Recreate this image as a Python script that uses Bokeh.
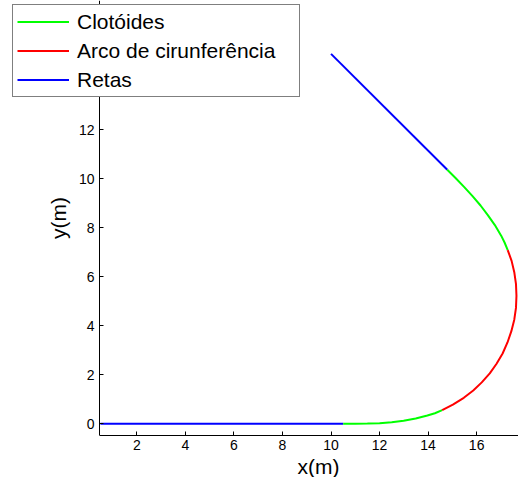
from bokeh.plotting import figure
from bokeh.models import Legend, LegendItem, Range1d, FixedTicker, Title
from bokeh.embed import file_html
from bokeh.resources import INLINE

# Retas (straight segments)
reta1_x = [0.5, 10.5]
reta1_y = [0.0, 0.0]
reta2_x = [14.79, 10.0]
reta2_y = [10.37, 15.1]

# Clotóides (transition curves)
clot1_x = [10.5, 11.0, 11.5, 12.0, 12.5, 12.99, 13.49, 13.97, 14.28, 14.58]
clot1_y = [0.0, 0.001, 0.008, 0.027, 0.063, 0.123, 0.213, 0.337, 0.43, 0.558]
clot2_x = [17.28, 17.15, 17.01, 16.75, 16.46, 16.16, 15.83, 15.49, 15.14, 14.79]
clot2_y = [7.09, 7.40, 7.68, 8.11, 8.52, 8.91, 9.29, 9.66, 10.02, 10.37]

# Arco de cirunferência
arco_x = [14.58, 15.02, 15.47, 15.86, 16.21, 16.54, 16.82, 17.07, 17.27, 17.43,
          17.55, 17.62, 17.64, 17.62, 17.55, 17.44, 17.28]
arco_y = [0.556, 0.78, 1.06, 1.36, 1.69, 2.06, 2.45, 2.87, 3.32, 3.78,
          4.25, 4.73, 5.22, 5.71, 6.19, 6.65, 7.09]

x_ticks = [2, 4, 6, 8, 10, 12, 14, 16, 18]
y_ticks = [0, 2, 4, 6, 8, 10, 12, 14, 16]

X_MIN = 0.46
SX, SY = 24.27, 24.5
FW, FH = 518, 435
x0 = X_MIN - 99 / SX
p = figure(frame_width=FW, frame_height=FH, output_backend="svg", toolbar_location=None,
           x_range=Range1d(x0, x0 + FW / SX),
           y_range=Range1d(-(FH - 423.3) / SY, 423.3 / SY),
           min_border_left=0, min_border_right=0, min_border_top=0, min_border_bottom=0)
p.outline_line_color = None
p.xgrid.visible = False
p.ygrid.visible = False
p.background_fill_color = "white"
p.border_fill_color = "white"

FONT = "Liberation Sans"
for ax in (p.xaxis[0], p.yaxis[0]):
    ax.axis_line_color = "black"
    ax.axis_line_width = 1
    ax.major_tick_in = 4
    ax.major_tick_out = 0
    ax.minor_tick_in = 0
    ax.minor_tick_out = 0
    ax.major_tick_line_color = "black"
    ax.major_label_text_font = FONT
    ax.major_label_text_font_size = "14px"
    ax.major_label_text_color = "black"
    ax.axis_label_text_font = FONT
    ax.axis_label_text_font_size = "21px"
    ax.axis_label_text_font_style = "normal"
    ax.axis_label_text_color = "black"

p.xaxis.ticker = FixedTicker(ticks=x_ticks)
p.yaxis.ticker = FixedTicker(ticks=y_ticks)
p.xaxis.bounds = (X_MIN, 18.48)
p.yaxis.fixed_location = X_MIN
p.yaxis.axis_label = "y(m)"
p.xaxis.major_label_standoff = 4
p.yaxis.major_label_standoff = 5
p.yaxis.axis_label_standoff = 6

xlab = Title(text="x(m)", align="left", offset=297, standoff=0,
             text_font=FONT, text_font_size="21px", text_font_style="normal",
             text_color="black")
p.add_layout(xlab, "below")

GREEN = "#00ff00"
RED = "#ff0000"
BLUE = "#0000ff"
LW = 2

r_ret1 = p.line(reta1_x, reta1_y, line_color=BLUE, line_width=LW)
r_ret2 = p.line(reta2_x, reta2_y, line_color=BLUE, line_width=LW)
r_clo1 = p.line(clot1_x, clot1_y, line_color=GREEN, line_width=LW)
r_clo2 = p.line(clot2_x, clot2_y, line_color=GREEN, line_width=LW)
r_arc = p.line(arco_x, arco_y, line_color=RED, line_width=LW)

legend = Legend(items=[
    LegendItem(label="Clotóides", renderers=[r_clo1]),
    LegendItem(label="Arco de cirunferência", renderers=[r_arc]),
    LegendItem(label="Retas", renderers=[r_ret1]),
], location=(12, FH - 97))
legend.level = "overlay"
legend.label_text_font = FONT
legend.label_text_font_size = "21px"
legend.label_text_color = "black"
legend.glyph_width = 52
legend.glyph_height = 25
legend.label_height = 25
legend.label_width = 218
legend.label_standoff = 8
legend.spacing = 4
legend.padding = 4
legend.margin = 0
legend.border_line_color = "black"
legend.border_line_width = 1
legend.background_fill_color = "white"
legend.background_fill_alpha = 1.0
p.add_layout(legend, "center")

open("out.html", "w").write(file_html(p, INLINE))
